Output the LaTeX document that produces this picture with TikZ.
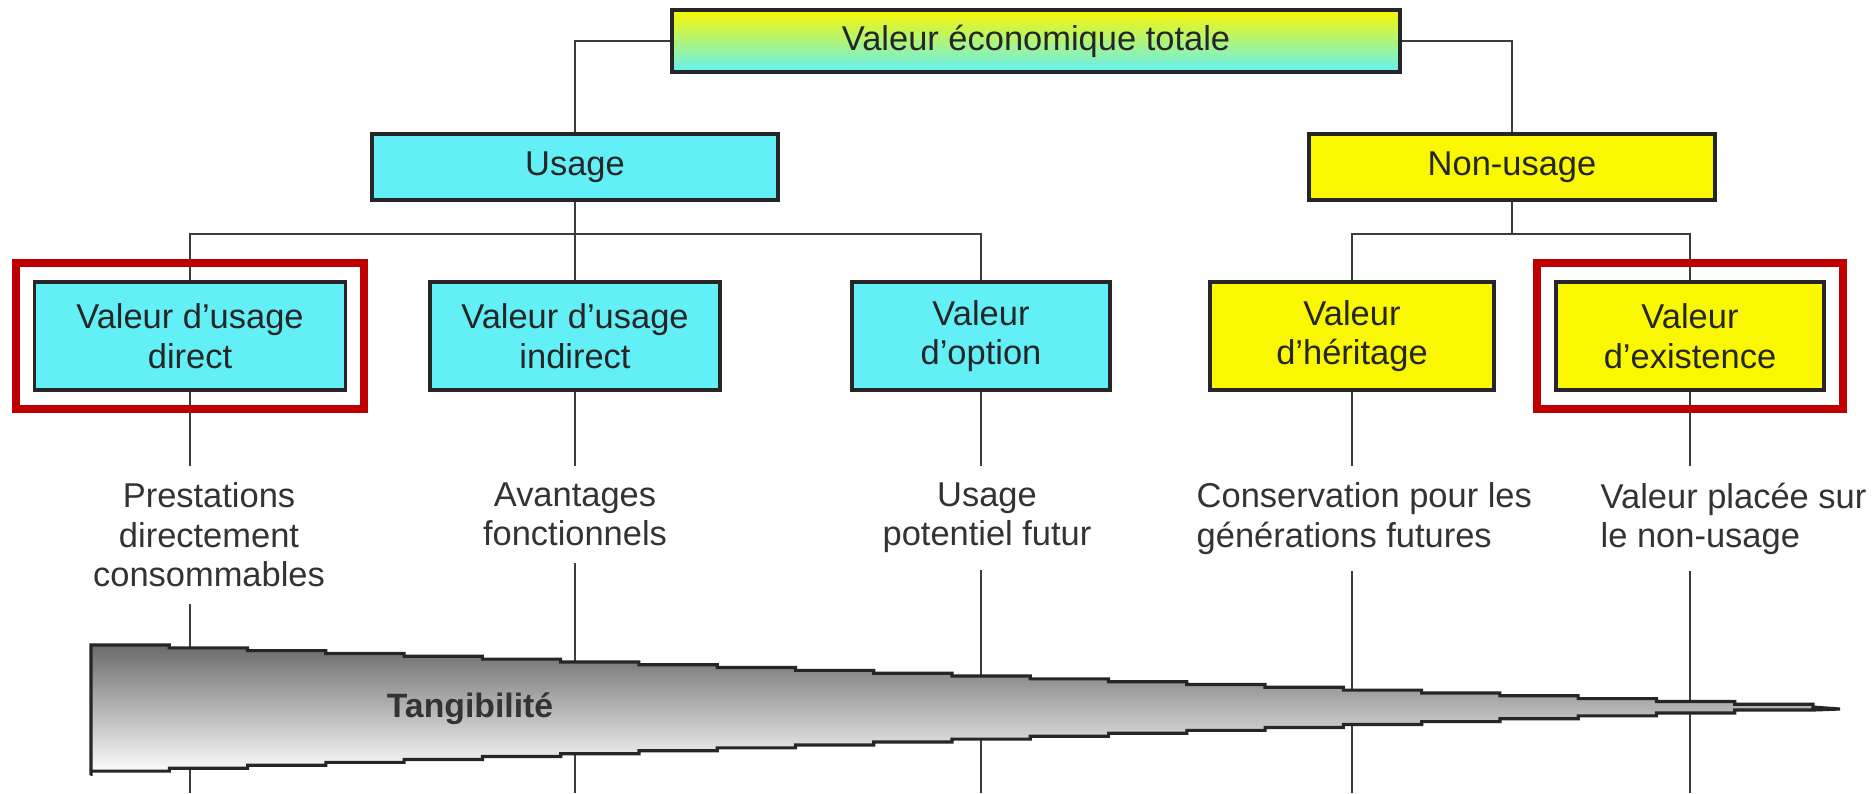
\documentclass[tikz,border=0pt]{standalone}
\usepackage{fontspec}
\setmainfont{Liberation Sans}
\usetikzlibrary{positioning, fit, calc}
\definecolor{boxcyan}{RGB}{98, 240, 246}
\definecolor{boxyellow}{RGB}{250, 248, 0}
\definecolor{framered}{RGB}{192, 0, 0}
\definecolor{linegray}{RGB}{60, 60, 60}

\begin{document}
\begin{tikzpicture}[
    x=0.01cm, y=-0.01cm,
    box/.style={rectangle, draw=black!85, line width=1pt, font=\fontsize{9.8}{11.2}\selectfont, text=black!85, align=center, inner sep=0pt},
    usebox/.style={box, fill=boxcyan},
    nonbox/.style={box, fill=boxyellow},
    link/.style={linegray, line width=0.75pt},
    note/.style={font=\fontsize{9.8}{11.2}\selectfont, text=black!80, inner xsep=0pt, inner ysep=0.16cm, anchor=north},
    redframe/.style={draw=framered, line width=2.2pt, inner sep=0.17cm}
]
\fill[white] (0,0) rectangle (1876,793);
\useasboundingbox (0,0) rectangle (1876,793);

% Top and second level
\node[box, top color=boxyellow, bottom color=boxcyan, minimum width=7.28cm, minimum height=0.62cm] (total) at (1036,41) {Valeur économique totale};
\node[usebox, minimum width=4.06cm, minimum height=0.66cm] (usage) at (575,167) {Usage};
\node[nonbox, minimum width=4.06cm, minimum height=0.66cm] (nonusage) at (1512,167) {Non-usage};

% Third level
\node[usebox, minimum width=3.11cm, minimum height=1.08cm] (direct) at (190,336) {Valeur d'usage\\direct};
\node[usebox, minimum width=2.90cm, minimum height=1.08cm] (indirect) at (575,336) {Valeur d'usage\\indirect};
\node[usebox, minimum width=2.58cm, minimum height=1.08cm] (option) at (981,336) {Valeur\\d'option};
\node[nonbox, minimum width=2.84cm, minimum height=1.08cm] (heritage) at (1352,336) {Valeur\\d'héritage};
\node[nonbox, minimum width=2.68cm, minimum height=1.08cm] (existence) at (1690,336) {Valeur\\d'existence};

% Descriptions
\node[note, align=center] (prest) at (209,466) {Prestations\\directement\\consommables};
\node[note, align=center] (avant) at (575,466) {Avantages\\fonctionnels};
\node[note, align=center] (potent) at (987,466) {Usage\\potentiel futur};
\node[note, align=left, anchor=north west] (conserv) at (1196,466) {Conservation pour les\\générations futures};
\node[note, align=left, anchor=north west] (placee) at (1600,466) {Valeur placée sur\\le non-usage};

\coordinate (ubus) at (575,234);
\coordinate (nbus) at (1512,234);
\coordinate (bottom) at (0,793);

% Connectors
\draw[link] (total.west) -| (usage.north);
\draw[link] (total.east) -| (nonusage.north);
\draw[link] (usage.south) -- (indirect.north);
\draw[link] (direct.north) |- (ubus) -| (option.north);
\draw[link] (nonusage.south) -- (nbus);
\draw[link] (heritage.north) |- (nbus) -| (existence.north);
\foreach \b/\t in {direct/prest, indirect/avant, option/potent, heritage/conserv, existence/placee} {
    \draw[link] (\b.south) -- (\b.south |- \t.north);
    \draw[link] (\b.south |- \t.south) -- (\b.south |- bottom);
}

% Tangibility wedge
\draw[draw=black!85, line width=0.9pt, top color=black!58, bottom color=white]
    (91,774) -- (91,645) \foreach \i in {1,...,22}{ -- ++(78.27,0) -- ++(0,2.82) }
    -- (1840,709) -- (1813,710) \foreach \i in {1,...,22}{ -- ++(-78.27,0) -- ++(0,2.91) } -- cycle;
\node[font=\bfseries\fontsize{9.6}{11}\selectfont, text=black!80] (tang) at (470,709) {Tangibilité};

% Highlights
\node[redframe, fit=(direct)] (framedirect) {};
\node[redframe, fit=(existence)] (frameexist) {};
\end{tikzpicture}
\end{document}
